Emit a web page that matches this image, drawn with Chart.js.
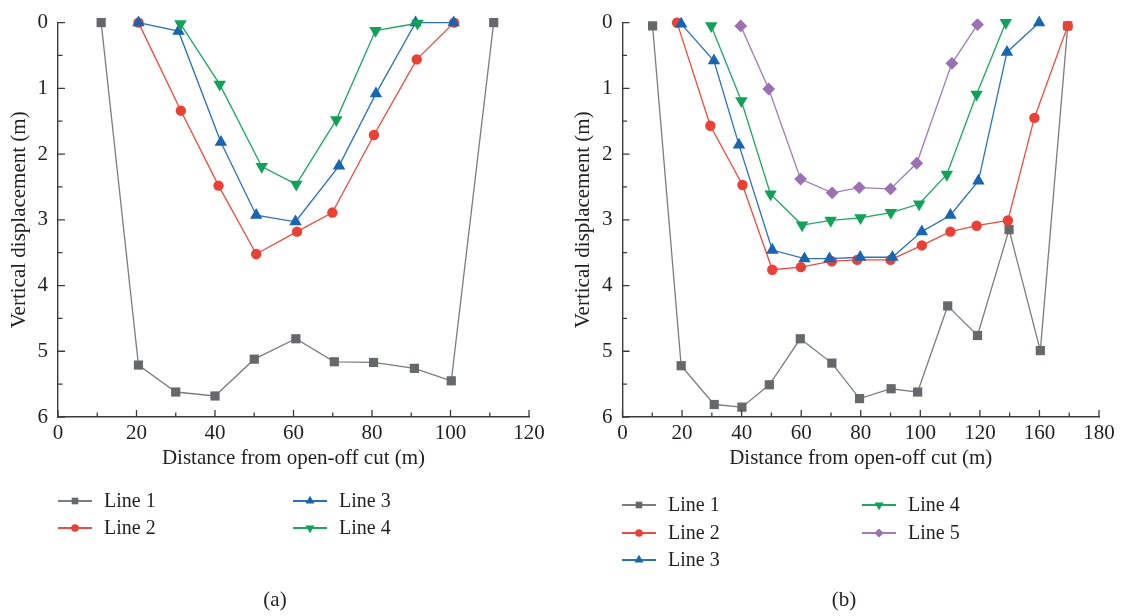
<!DOCTYPE html>
<html>
<head>
<meta charset="utf-8">
<title>Vertical displacement vs distance</title>
<script src="https://cdn.jsdelivr.net/npm/chart.js"></script>
<style>
  body { margin: 0; background: #fff; }
  #wrap { position: relative; width: 1122px; height: 616px; }
  canvas { position: absolute; top: 0; }
  #chartA { left: 0; }
  #chartB { left: 561px; }
</style>
</head>
<body>
<div id="wrap">
  <canvas id="chartA" width="561" height="616"></canvas>
  <canvas id="chartB" width="561" height="616"></canvas>
</div>
<script>
// ---- data: panel (a) ----
const a1x = [11, 20.5, 30, 40, 50, 60.6, 70.4, 80.4, 90.8, 100.2, 111];
const a1y = [0, 5.21, 5.62, 5.68, 5.12, 4.81, 5.16, 5.17, 5.26, 5.45, 0];
const a2x = [20.5, 31.3, 40.9, 50.5, 60.9, 69.9, 80.5, 91.4, 100.9];
const a2y = [0, 1.34, 2.48, 3.52, 3.18, 2.89, 1.71, 0.56, 0];
const a3x = [20.5, 30.7, 41.5, 50.5, 60.5, 71.6, 81, 91.1, 100.8];
const a3y = [0, 0.13, 1.82, 2.93, 3.03, 2.18, 1.08, 0, 0];
const a4x = [31.2, 41.2, 51.9, 60.7, 70.9, 80.9, 91.6];
const a4y = [0.02, 0.94, 2.19, 2.46, 1.48, 0.12, 0.01];

// ---- data: panel (b) ----
const b1x = [10.1, 19.7, 30.8, 40.1, 49.3, 59.7, 70.3, 79.6, 90.2, 99.1, 109.2, 119.2, 129.8, 140.3, 149.5];
const b1y = [0.05, 5.22, 5.81, 5.85, 5.51, 4.81, 5.18, 5.72, 5.57, 5.62, 4.31, 4.76, 3.15, 4.99, 0.05];
const b2x = [18.3, 29.5, 40.3, 50.3, 59.9, 70.3, 78.8, 90, 100.5, 110.1, 118.9, 129.4, 138.3, 149.5];
const b2y = [0, 1.57, 2.47, 3.76, 3.72, 3.63, 3.61, 3.61, 3.39, 3.18, 3.09, 3.01, 1.45, 0.05];
const b3x = [19.7, 30.7, 39.1, 50.3, 61.1, 69.5, 79.8, 90.6, 100.5, 110.1, 119.5, 129.1, 139.9];
const b3y = [0.02, 0.58, 1.86, 3.46, 3.59, 3.59, 3.57, 3.57, 3.18, 2.93, 2.41, 0.45, 0];
const b4x = [29.8, 39.9, 49.7, 60.3, 69.9, 79.9, 90.1, 99.6, 108.9, 118.9, 128.7];
const b4y = [0.05, 1.19, 2.61, 3.08, 3.01, 2.97, 2.89, 2.76, 2.31, 1.09, 0];
const b5x = [39.7, 49.1, 59.8, 70.4, 79.5, 90, 98.8, 110.6, 119.2];
const b5y = [0.05, 1.01, 2.38, 2.59, 2.51, 2.53, 2.14, 0.62, 0.03];

const lineNames = ['Line 1', 'Line 2', 'Line 3', 'Line 4', 'Line 5'];
// tick labels of panel (b) as printed (no 140 label)
const xTickLabelsB = ['0', '20', '40', '60', '80', '100', '120', '160', '180'];

// ---- styles ----
const textColor = '#231f20';
const axisColor = '#3c3c3e';
const serif = '"Liberation Serif", "DejaVu Serif", serif';
const looks = [
  { line: '#7d7d80', fill: '#67686b', shape: 'rect', r: 6.5, rot: 0 },
  { line: '#ef4a3f', fill: '#ee3f35', shape: 'circle', r: 5.2, rot: 0 },
  { line: '#2a72bb', fill: '#1765b3', shape: 'triangle', r: 7.2, rot: 0 },
  { line: '#1aa862', fill: '#0fa35a', shape: 'triangle', r: 7.2, rot: 180 },
  { line: '#a17dbb', fill: '#9b70b4', shape: 'rectRot', r: 6.4, rot: 0 }
];

Chart.defaults.font.family = serif;
Chart.defaults.font.size = 21;
Chart.defaults.color = textColor;

function makeSet(i, xs, ys) {
  const lk = looks[i];
  return {
    label: lineNames[i],
    data: xs.map((x, k) => ({ x: x, y: ys[k] })),
    showLine: true,
    borderColor: lk.line,
    borderWidth: 1.3,
    tension: 0,
    pointStyle: lk.shape,
    pointRotation: lk.rot,
    pointRadius: lk.r,
    pointBackgroundColor: lk.fill,
    pointBorderWidth: 0,
    order: 10 - i,
    clip: false
  };
}

function xScale(max, labelFn) {
  return {
    type: 'linear', min: 0, max: max,
    grid: { display: false, drawTicks: false },
    border: { display: true, color: axisColor, width: 1.4 },
    ticks: { stepSize: 20, padding: 4, maxRotation: 0, autoSkip: false, callback: labelFn },
    title: { display: true, text: 'Distance from open-off cut (m)', padding: { top: 0, bottom: 0 } },
    afterFit(s) { s.height = 54; }
  };
}

function yScale(width, titlePad) {
  return {
    type: 'linear', reverse: true, min: 0, max: 6,
    grid: { display: false, drawTicks: false },
    border: { display: true, color: axisColor, width: 1.4 },
    ticks: { stepSize: 1, padding: 10 },
    title: { display: true, text: 'Vertical displacement (m)', padding: { top: titlePad, bottom: 0 } },
    afterFit(s) { s.width = width; }
  };
}

// inward ticks, two-column legend and panel caption
const figurePlugin = {
  id: 'figure',
  afterDraw(chart, args, o) {
    const ctx = chart.ctx, area = chart.chartArea;
    const xs = chart.scales.x, ys = chart.scales.y;
    ctx.save();
    ctx.strokeStyle = axisColor;
    ctx.lineWidth = 1.3;
    ctx.beginPath();
    for (let k = 0; k * o.xMinor <= xs.max + 1e-6; k++) {
      const px = xs.getPixelForValue(k * o.xMinor);
      const len = k % 2 === 0 ? 7 : 4.5;
      ctx.moveTo(px, area.bottom);
      ctx.lineTo(px, area.bottom - len);
    }
    for (let k = 0; k * 0.5 <= ys.max + 1e-6; k++) {
      const py = ys.getPixelForValue(k * 0.5);
      const len = k % 2 === 0 ? 7 : 4.5;
      ctx.moveTo(area.left, py);
      ctx.lineTo(area.left + len, py);
    }
    ctx.stroke();

    ctx.font = '20px ' + serif;
    ctx.textBaseline = 'middle';
    ctx.textAlign = 'left';
    o.legendAt.forEach((p, i) => {
      const ds = chart.data.datasets[i];
      ctx.strokeStyle = ds.borderColor;
      ctx.lineWidth = 2;
      ctx.beginPath();
      ctx.moveTo(p[0], p[1]);
      ctx.lineTo(p[0] + 34, p[1]);
      ctx.stroke();
      ctx.fillStyle = ds.pointBackgroundColor;
      Chart.helpers.drawPoint(ctx, {
        pointStyle: ds.pointStyle, rotation: ds.pointRotation,
        radius: ds.pointRadius * 0.72, borderWidth: 0
      }, p[0] + 17, p[1]);
      ctx.fillStyle = textColor;
      ctx.fillText(ds.label, p[0] + 46, p[1] + 1);
    });

    ctx.font = '21px ' + serif;
    ctx.textAlign = 'center';
    ctx.fillText(o.caption, o.captionX, 600);
    ctx.restore();
  }
};

function baseOptions(pad, yWidth, yTitlePad, xMax, labelFn, fig) {
  return {
    responsive: false,
    animation: false,
    layout: { padding: pad },
    plugins: { legend: { display: false }, tooltip: { enabled: false }, figure: fig },
    scales: { x: xScale(xMax, labelFn), y: yScale(yWidth, yTitlePad) }
  };
}

new Chart(document.getElementById('chartA'), {
  type: 'scatter',
  data: {
    datasets: [
      makeSet(0, a1x, a1y), makeSet(1, a2x, a2y),
      makeSet(2, a3x, a3y), makeSet(3, a4x, a4y)
    ]
  },
  options: baseOptions({ left: 0, top: 17, right: 32, bottom: 145 }, 58, 7, 120, undefined, {
    xMinor: 10,
    legendAt: [[58, 501], [58, 528], [293, 501], [293, 528]],
    caption: '(a)', captionX: 275
  }),
  plugins: [figurePlugin]
});

new Chart(document.getElementById('chartB'), {
  type: 'scatter',
  data: {
    datasets: [
      makeSet(0, b1x, b1y), makeSet(1, b2x, b2y), makeSet(2, b3x, b3y),
      makeSet(3, b4x, b4y), makeSet(4, b5x, b5y)
    ]
  },
  options: baseOptions({ left: 0, top: 17, right: 23, bottom: 145 }, 61.5, 9.5, 160,
    v => xTickLabelsB[Math.round(v / 20)], {
    xMinor: 10,
    legendAt: [[61, 505], [61, 533], [61, 560], [301, 505], [301, 533]],
    caption: '(b)', captionX: 283
  }),
  plugins: [figurePlugin]
});
</script>
</body>
</html>
